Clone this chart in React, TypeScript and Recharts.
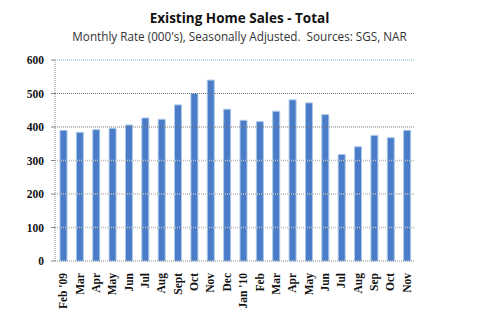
import React from 'react'
import { BarChart, Bar, XAxis, YAxis, ReferenceLine } from 'recharts'

const months = [
  "Feb '09", 'Mar', 'Apr', 'May', 'Jun', 'Jul', 'Aug', 'Sept', 'Oct', 'Nov', 'Dec',
  "Jan '10", 'Feb', 'Mar', 'Apr', 'May', 'Jun', 'Jul', 'Aug', 'Sep', 'Oct', 'Nov',
]
const sales = [390, 384, 392, 396, 406, 427, 423, 466, 500, 540, 453, 420, 416, 447, 481, 472, 437, 318, 341, 375, 368, 390]
const yTicks = [0, 100, 200, 300, 400, 500, 600]

const data = months.map((m, i) => ({ id: i, month: m, value: sales[i] }))

const gridStyle = (v: number) => {
  if (v === 600) return { stroke: '#7fb3c9', strokeWidth: 1.2 }
  if (v >= 400) return { stroke: '#777', strokeWidth: 1 }
  return { stroke: '#bdbdbd', strokeWidth: 1.6 }
}

const MonthTick = (props: any) => {
  const { x, y, payload } = props
  return (
    <text
      x={x + 4}
      y={y + 4}
      transform={`rotate(-90, ${x + 4}, ${y + 4})`}
      textAnchor="end"
      fontFamily="'Liberation Serif', serif"
      fontWeight="bold"
      fontSize={11.5}
      fill="#111"
    >
      {months[payload.value]}
    </text>
  )
}

export default function App() {
  return (
    <div style={{ position: 'absolute', left: 0, top: 0, width: 479, height: 327, background: '#fff' }}>
      <div style={{ position: 'absolute', left: 0, width: 479, top: 9, textAlign: 'center', fontFamily: "'Open Sans', sans-serif", fontWeight: 700, fontSize: 13.5, color: '#111' }}>
        Existing Home Sales - Total
      </div>
      <div style={{ position: 'absolute', left: 0, width: 479, top: 28, textAlign: 'center', fontFamily: "'Open Sans', sans-serif", fontSize: 11.7, color: '#333' }}>
        Monthly Rate (000's), Seasonally Adjusted.&nbsp;&nbsp;Sources: SGS, NAR
      </div>
      <BarChart width={479} height={327} data={data} margin={{ top: 60, right: 64, left: 15, bottom: 6 }}>
        {yTicks.filter(v => v > 0).map(v => (
          <ReferenceLine key={v} y={v} strokeDasharray="1 1" {...gridStyle(v)} />
        ))}
        <XAxis
          dataKey="id"
          type="category"
          height={60}
          interval={0}
          tick={<MonthTick />}
          tickLine={false}
          axisLine={{ stroke: '#888', strokeDasharray: '1 1' }}
        />
        <YAxis
          domain={[0, 600]}
          ticks={yTicks}
          width={40}
          interval={0}
          tick={{ fontFamily: "'Liberation Serif', serif", fontWeight: 'bold', fontSize: 11.5, fill: '#111', dx: -5 }}
          tickLine={{ stroke: '#888' }}
          tickSize={4}
          axisLine={{ stroke: '#888', strokeDasharray: '1 1' }}
        />
        <Bar dataKey="value" barSize={7} fill="#4a7cc8" stroke="#a9c9ea" strokeWidth={1} isAnimationActive={false} />
      </BarChart>
    </div>
  )
}
